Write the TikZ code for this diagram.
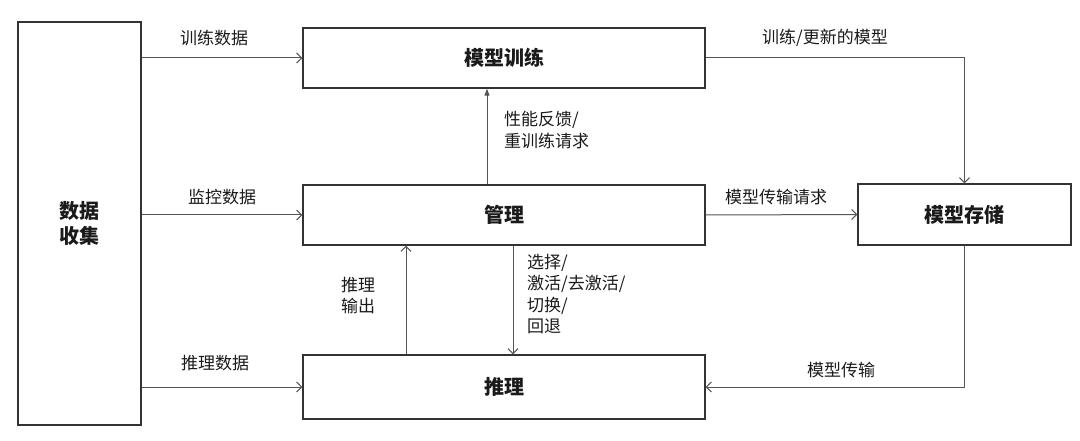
\documentclass[tikz,border=0pt]{standalone}
\usepackage{fontspec}
\setmainfont{Noto Sans CJK SC}
\usetikzlibrary{arrows.meta}
\definecolor{boxline}{HTML}{333333}
\definecolor{conn}{HTML}{555555}
\definecolor{txt}{HTML}{1A1A1A}
\tikzset{
  box/.style={draw=boxline, line width=1.4pt, fill=white, inner sep=0pt, text=txt,
    font=\fontsize{20}{25}\selectfont\bfseries, align=center},
  conn/.style={draw=conn, line width=1pt, -{Straight Barb[length=5pt,width=10pt]}},
  connf/.style={draw=conn, line width=1pt, -{Triangle[length=7pt,width=5pt]}},
  lbl/.style={text=txt, font=\fontsize{17}{21.5}\selectfont, inner sep=0pt, align=left}
}
\begin{document}
\begin{tikzpicture}[x=1pt,y=-1pt]
\useasboundingbox (0,0) rectangle (1080,441);
\node[box, minimum width=123pt, minimum height=403pt] (src) at (79.5,223.5) {数据\\收集};
\node[box, minimum width=402pt, minimum height=60pt] (train) at (504,58) {模型训练};
\node[box, minimum width=402pt, minimum height=60pt] (mgmt) at (504,215) {管理};
\node[box, minimum width=402pt, minimum height=64pt] (inf) at (504,387) {推理};
\node[box, minimum width=213pt, minimum height=61pt] (store) at (964.5,214.5) {模型存储};

\draw[conn] (src.east |- train.west) -- (train.west);
\draw[conn] (src.east |- mgmt.west) -- (mgmt.west);
\draw[conn] (src.east |- inf.west) -- (inf.west);
\draw[conn] (train.east) -| (store.north);
\draw[conn] (mgmt.east) -- (store.west);
\draw[conn] (store.south) |- (inf.east);
\draw[connf] ([xshift=-17pt]mgmt.north) -- ([xshift=-17pt]train.south);
\draw[conn] ([xshift=-98pt]inf.north) -- ([xshift=-98pt]mgmt.south);
\draw[conn] ([xshift=9pt]mgmt.south) -- ([xshift=9pt]inf.north);

\node[lbl] (l1) at (214,38) {训练数据};
\node[lbl] (l2) at (222,197) {监控数据};
\node[lbl] (l3) at (215,363) {推理数据};
\node[lbl] (l4) at (825,38) {训练/更新的模型};
\node[lbl] (l5) at (776,197) {模型传输请求};
\node[lbl] (l6) at (841,370) {模型传输};
\node[lbl, anchor=north west] (l7) at (504,111) {性能反馈/\\重训练请求};
\node[lbl, anchor=north west] (l8) at (341,277) {推理\\输出};
\node[lbl, anchor=north west] (l9) at (527,254) {选择/\\激活/去激活/\\切换/\\回退};
\end{tikzpicture}
\end{document}
